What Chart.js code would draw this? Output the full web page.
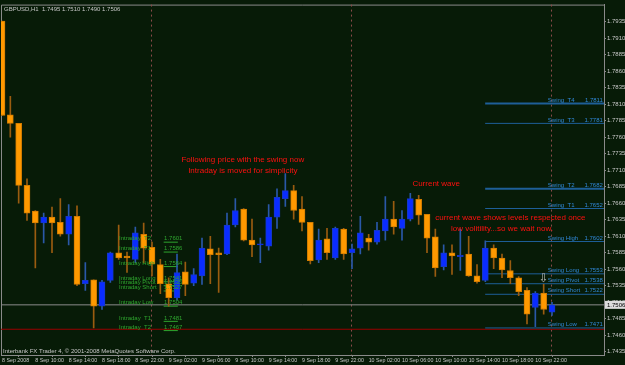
<!DOCTYPE html>
<html><head><meta charset="utf-8">
<script src="https://cdn.jsdelivr.net/npm/chart.js@4.4.1/dist/chart.umd.min.js"></script>
<style>html,body{margin:0;padding:0;background:#071b07;}canvas{display:block}</style>
</head><body>
<canvas id="c" width="625" height="365"></canvas>
<script>
// ---- data (GBPUSD H1, 8 Sep 2008 06:00 .. 11 Sep 2008 00:00) ----
const symbol = "GBPUSD,H1";
const opens  = [1.7936,1.7794,1.7781,1.7687,1.7648,1.7630,1.7639,1.7631,1.7613,1.7640,
                1.7538,1.7544,1.7504,1.7543,1.7585,1.7580,1.7575,1.7613,1.7593,1.7567,
                1.7538,1.7517,1.7556,1.7539,1.7550,1.7591,1.7585,1.7583,1.7627,1.7651,
                1.7604,1.7597,1.7595,1.7639,1.7667,1.7679,1.7651,1.7631,1.7574,1.7606,
                1.7577,1.7621,1.7585,1.7592,1.7607,1.7601,1.7618,1.7636,1.7622,1.7636,
                1.7666,1.7643,1.7609,1.7564,1.7585,1.7579,1.7583,1.7550,1.7543,1.7592,
                1.7577,1.7558,1.7547,1.7528,1.7502,1.7524,1.7495];
const highs  = [1.7936,1.7822,1.7781,1.7697,1.7649,1.7645,1.7654,1.7667,1.7658,1.7656,
                1.7570,1.7544,1.7543,1.7586,1.7627,1.7586,1.7624,1.7630,1.7601,1.7575,
                1.7547,1.7583,1.7571,1.7561,1.7607,1.7610,1.7592,1.7645,1.7667,1.7652,
                1.7636,1.7607,1.7658,1.7682,1.7705,1.7687,1.7670,1.7631,1.7621,1.7622,
                1.7624,1.7622,1.7598,1.7640,1.7613,1.7631,1.7670,1.7663,1.7649,1.7675,
                1.7672,1.7643,1.7621,1.7597,1.7597,1.7621,1.7610,1.7567,1.7603,1.7597,
                1.7583,1.7573,1.7549,1.7532,1.7526,1.7537,1.7510];
const lows   = [1.7793,1.7760,1.7660,1.7634,1.7562,1.7600,1.7585,1.7610,1.7597,1.7535,
                1.7528,1.7471,1.7499,1.7540,1.7575,1.7555,1.7570,1.7570,1.7550,1.7523,
                1.7504,1.7513,1.7520,1.7535,1.7537,1.7538,1.7525,1.7582,1.7624,1.7603,
                1.7579,1.7570,1.7589,1.7622,1.7655,1.7636,1.7618,1.7568,1.7570,1.7575,
                1.7575,1.7575,1.7561,1.7583,1.7589,1.7598,1.7604,1.7613,1.7604,1.7633,
                1.7628,1.7585,1.7549,1.7559,1.7552,1.7558,1.7549,1.7539,1.7541,1.7561,
                1.7547,1.7538,1.7520,1.7477,1.7473,1.7492,1.7490];
const closes = [1.7793,1.7781,1.7687,1.7645,1.7630,1.7639,1.7630,1.7613,1.7640,1.7537,
                1.7543,1.7504,1.7541,1.7585,1.7577,1.7577,1.7615,1.7592,1.7568,1.7538,
                1.7517,1.7555,1.7537,1.7552,1.7592,1.7582,1.7582,1.7627,1.7649,1.7604,
                1.7597,1.7598,1.7639,1.7669,1.7679,1.7649,1.7631,1.7573,1.7604,1.7585,
                1.7622,1.7583,1.7591,1.7615,1.7601,1.7619,1.7636,1.7624,1.7636,1.7667,
                1.7642,1.7607,1.7562,1.7585,1.7580,1.7581,1.7550,1.7541,1.7592,1.7577,
                1.7559,1.7547,1.7526,1.7492,1.7524,1.7499,1.7506];

const xTickBars   = [0,4,8,12,16,20,24,28,32,36,40,44,48,52,56,60,64];
const xTickLabels = ["8 Sep 2008","8 Sep 10:00","8 Sep 14:00","8 Sep 18:00","8 Sep 22:00",
                     "9 Sep 02:00","9 Sep 06:00","9 Sep 10:00","9 Sep 14:00","9 Sep 18:00","9 Sep 22:00",
                     "10 Sep 02:00","10 Sep 06:00","10 Sep 10:00","10 Sep 14:00","10 Sep 18:00","10 Sep 22:00"];
const yTicks = [1.7435,1.7460,1.7485,1.7510,1.7535,1.7560,1.7585,1.7610,1.7635,1.7660,1.7685,
                1.7710,1.7735,1.7760,1.7785,1.7810,1.7835,1.7860,1.7885,1.7910,1.7935];
const daySeparators = [17.9, 41.9, 65.9];

const swingNames  = ["Swing  T4","Swing  T3","Swing  T2","Swing  T1","Swing High","Swing Long","Swing Pivot","Swing Short","Swing Low"];
const swingLevels = [1.7811,1.7781,1.7682,1.7652,1.7602,1.7553,1.7538,1.7522,1.7471];
const intradayNames  = ["Intraday  T2","Intraday  T1","Intraday High","Intraday Long","Intraday Pivot","Intraday Short","Intraday Low","Intraday  T1","Intraday  T2"];
const intradayLevels = [1.7601,1.7586,1.7564,1.7541,1.7535,1.7527,1.7504,1.7481,1.7467];
const redLineLevel = 1.7469;

const notes = [
  {text:"Following price with the swing now", bar:28.9, price:1.7726},
  {text:"Intraday is moved for simplicity",   bar:28.9, price:1.7709},
  {text:"Current wave",                       bar:52.1, price:1.7689},
  {text:"current wave shows levels respected once", bar:61.0, price:1.7638},
  {text:"low volitility...so we wait now.",   bar:60.0, price:1.7621}
];
const arrowMark = {bar:65.0, price:1.7555};

// ---- styles ----
const BG = "#071b07";
const UP_BODY = "#0a2cff", UP_EDGE = "#1438c8", UP_WICK = "#2a58a8";
const DN_BODY = "#ff9900", DN_EDGE = "#d27c00", DN_WICK = "#9a5c10";
const SWING_LINE = "#1e5f98", SWING_TEXT = "#3088d8";
const INTRA = "#2ea52e", NOTE = "#ff1010", AXIS = "#8a8a8a", TXT = "#c8c8c8";
const X_MIN = -0.12, X_MAX = 72.24, Y_MIN = 1.7430, Y_MAX = 1.7961;
const SW_X0 = 57.98;

const idx = opens.map((_, i) => i);
const isUp = idx.map(i => closes[i] >= opens[i]);

const datasets = [];
datasets.push({
  type:'bar', label:'bodies', order:0, grouped:false,
  data: idx.map(i => ({x:i, y:[opens[i], closes[i]]})),
  backgroundColor: idx.map(i => isUp[i] ? UP_BODY : DN_BODY),
  borderColor: idx.map(i => isUp[i] ? UP_EDGE : DN_EDGE),
  borderWidth: 1, borderSkipped: false, barThickness: 6, minBarLength: 1
});
datasets.push({
  type:'bar', label:'wicks', order:1, grouped:false,
  data: idx.map(i => ({x:i, y:[lows[i], highs[i]]})),
  backgroundColor: idx.map(i => isUp[i] ? UP_WICK : DN_WICK),
  borderWidth: 0, barThickness: 1, minBarLength: 1
});
swingLevels.forEach((v, k) => datasets.push({
  type:'line', order:2, data:[{x:SW_X0, y:v},{x:X_MAX, y:v}],
  borderColor: SWING_LINE, borderWidth: (k===0||k===2)?2:1, pointRadius:0
}));
intradayLevels.forEach(v => datasets.push({
  type:'line', order:2, data:[{x:19.4, y:v},{x:21.1, y:v}],
  borderColor: INTRA, borderWidth: 1, pointRadius:0
}));
datasets.push({type:'line', order:3, data:[{x:X_MIN,y:closes[closes.length-1]},{x:X_MAX,y:closes[closes.length-1]}],
  borderColor:"#8c8c8c", borderWidth:1, pointRadius:0});
datasets.push({type:'line', order:3, data:[{x:X_MIN,y:redLineLevel},{x:X_MAX,y:redLineLevel}],
  borderColor:"#9a0000", borderWidth:1, pointRadius:0});

const decor = {
  id:'decor',
  beforeDraw(chart){
    const c = chart.ctx;
    c.save(); c.fillStyle = BG; c.fillRect(0,0,chart.width,chart.height); c.restore();
  },
  beforeDatasetsDraw(chart){
    const c = chart.ctx, a = chart.chartArea, xs = chart.scales.x;
    c.save();
    c.strokeStyle = AXIS; c.lineWidth = 1;
    c.beginPath(); c.moveTo(a.left+0.5, a.bottom); c.lineTo(a.left+0.5, a.top+0.5); c.lineTo(a.right, a.top+0.5); c.stroke();
    c.strokeStyle = "#8a4a4a"; c.setLineDash([2,3]);
    daySeparators.forEach(b => {
      const x = Math.round(xs.getPixelForValue(b)) + 0.5;
      c.beginPath(); c.moveTo(x, a.top); c.lineTo(x, a.bottom); c.stroke();
    });
    c.restore();
  },
  afterDatasetsDraw(chart){
    const c = chart.ctx, xs = chart.scales.x, ys = chart.scales.y, a = chart.chartArea;
    c.save();
    // swing labels
    c.font = "6px 'Liberation Sans'"; c.textBaseline = 'bottom'; c.fillStyle = SWING_TEXT;
    swingLevels.forEach((v,k) => {
      const y = ys.getPixelForValue(v) - 0.5;
      c.textAlign = 'left';  c.fillText(swingNames[k], xs.getPixelForValue(65.5), y);
      c.textAlign = 'right'; c.fillText(v.toFixed(4), xs.getPixelForValue(72.1), y);
    });
    // intraday labels
    c.fillStyle = INTRA;
    intradayLevels.forEach((v,k) => {
      const y = ys.getPixelForValue(v) - 0.5;
      c.textAlign = 'left';
      c.fillText(intradayNames[k], xs.getPixelForValue(14.04), y);
      c.fillText(v.toFixed(4), xs.getPixelForValue(19.45), y);
    });
    // notes
    c.font = "8px 'Liberation Sans'"; c.fillStyle = NOTE; c.textAlign = 'center'; c.textBaseline = 'middle';
    notes.forEach(n => c.fillText(n.text, xs.getPixelForValue(n.bar), ys.getPixelForValue(n.price)));
    // arrow
    c.font = "12px 'DejaVu Sans'"; c.fillStyle = "#b8b8b8"; c.textBaseline = 'top';
    c.fillText("\u21E9", xs.getPixelForValue(arrowMark.bar), ys.getPixelForValue(arrowMark.price));
    // header / footer
    const n = closes.length - 1;
    c.font = "6px 'Liberation Sans'"; c.fillStyle = TXT; c.textAlign = 'left'; c.textBaseline = 'top';
    c.fillText(symbol + "  " + [opens[n],highs[n],lows[n],closes[n]].map(v=>v.toFixed(4)).join(" "), a.left+3, a.top+2);
    c.textBaseline = 'bottom';
    c.fillText("Interbank FX Trader 4, \u00A9 2001-2008 MetaQuotes Software Corp.", a.left+2, a.bottom-0.5);
    // bid box
    const by = ys.getPixelForValue(closes[n]);
    c.fillStyle = "#dcdcdc"; c.fillRect(a.right+1, by-4, 20, 8);
    c.fillStyle = "#000"; c.textBaseline = 'middle'; c.textAlign = 'left';
    c.fillText(closes[n].toFixed(4), a.right+3, by+0.5);
    c.restore();
  }
};

Chart.defaults.font.family = "'Liberation Sans'";
new Chart(document.getElementById('c'), {
  type:'bar',
  data:{datasets},
  plugins:[decor],
  options:{
    responsive:false, animation:false, events:[],
    layout:{padding:{left:1, top:1, right:0, bottom:0}},
    plugins:{legend:{display:false}, tooltip:{enabled:false}},
    scales:{
      x:{type:'linear', position:'bottom', min:X_MIN, max:X_MAX, offset:false,
         afterBuildTicks(s){ s.ticks = xTickBars.map(v => ({value:v})); },
         afterFit(s){ s.height = 10; },
         border:{display:true, color:AXIS},
         grid:{display:true, drawOnChartArea:false, drawTicks:true, tickLength:2, color:AXIS},
         ticks:{autoSkip:false, maxRotation:0, align:'start', padding:0, color:TXT, font:{size:5.3},
                callback:(v,i) => xTickLabels[i]}},
      y:{type:'linear', position:'right', min:Y_MIN, max:Y_MAX,
         afterBuildTicks(s){ s.ticks = yTicks.map(v => ({value:v})); },
         afterFit(s){ s.width = 21; },
         border:{display:true, color:AXIS},
         grid:{display:true, drawOnChartArea:false, drawTicks:true, tickLength:2, color:AXIS},
         ticks:{padding:1, color:TXT, font:{size:6}, callback:v => v.toFixed(4)}}
    }
  }
});
</script>
</body></html>
